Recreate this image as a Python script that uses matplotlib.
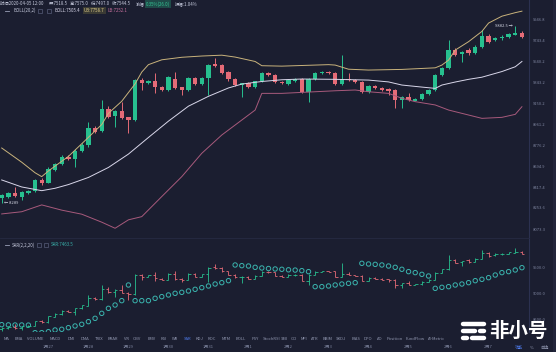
import numpy as np
import matplotlib.pyplot as plt
from matplotlib.lines import Line2D
from matplotlib.patches import Rectangle
from matplotlib.ticker import NullLocator

plt.rcParams['font.family'] = ['Noto Sans CJK SC', 'DejaVu Sans']

# 4h candles, 1月26 -> 2月7
opens = [8326, 8340, 8368, 8340, 8368, 8389, 8479, 8456, 8564, 8615, 8677, 8655, 8730, 8776, 8929, 8900,
         9102, 9036, 9078, 9024, 9000, 9365, 9334, 9359, 9298, 9273, 9377, 9298, 9273, 9384, 9328, 9384,
         9515, 9503, 9440, 9371, 9322, 9334, 9298, 9353, 9428, 9415, 9350, 9328, 9359, 9371, 9257, 9371,
         9428, 9440, 9434, 9328, 9377, 9365, 9350, 9257, 9310, 9288, 9280, 9273, 9181, 9206, 9175, 9187,
         9236, 9273, 9409, 9476, 9649, 9610, 9649, 9617, 9681, 9786, 9746, 9761, 9777, 9797, 9817]
highs = [8360, 8380, 8423, 8390, 8398, 8490, 8495, 8585, 8625, 8690, 8690, 8740, 8795, 8985, 8945, 9181,
         9125, 9090, 9166, 9030, 9375, 9380, 9370, 9428, 9310, 9400, 9444, 9305, 9395, 9395, 9392, 9515,
         9570, 9515, 9450, 9380, 9340, 9345, 9360, 9440, 9438, 9425, 9360, 9375, 9380, 9380, 9380, 9440,
         9450, 9450, 9445, 9601, 9428, 9372, 9360, 9318, 9320, 9300, 9290, 9280, 9215, 9242, 9200, 9245,
         9282, 9420, 9488, 9746, 9665, 9640, 9665, 9695, 9843, 9800, 9780, 9790, 9815, 9882.5, 9835]
lows = [8289, 8330, 8335, 8312, 8360, 8380, 8440, 8450, 8555, 8605, 8645, 8592, 8720, 8765, 8885, 8890,
        9020, 8941, 9010, 8882, 8990, 9273, 9325, 9242, 9262, 9262, 9278, 9227, 9265, 9318, 9320, 9227,
        9490, 9425, 9360, 9310, 9211, 9288, 9290, 9345, 9405, 9340, 9325, 9320, 9350, 9248, 9166, 9365,
        9420, 9420, 9320, 9320, 9358, 9342, 9250, 9242, 9280, 9265, 9227, 9106, 9106, 9172, 9168, 9180,
        9228, 9265, 9400, 9470, 9590, 9532, 9605, 9610, 9670, 9720, 9735, 9750, 9765, 9790, 9765]
closes = [8354, 8368, 8345, 8381, 8389, 8479, 8456, 8570, 8615, 8672, 8655, 8730, 8783, 8929, 8896, 9102,
          9030, 9078, 9018, 9000, 9365, 9334, 9359, 9304, 9273, 9390, 9287, 9273, 9384, 9328, 9384, 9503,
          9497, 9434, 9371, 9319, 9334, 9298, 9353, 9428, 9415, 9350, 9334, 9365, 9371, 9257, 9371, 9428,
          9440, 9428, 9328, 9377, 9365, 9350, 9257, 9310, 9288, 9273, 9267, 9181, 9206, 9181, 9194, 9236,
          9273, 9412, 9478, 9649, 9601, 9630, 9617, 9681, 9786, 9731, 9769, 9777, 9803, 9817, 9777]

sar = [8410, 8406, 8404, 8404, 8402, 8256, 8256, 8275, 8308, 8321, 8352, 8385, 8417, 8468, 8532, 8628,
       8724, 8788, 8872, 9173, 8872, 8872, 8872, 8917, 8949, 8981, 9013, 9032, 9058, 9090, 9122, 9154,
       9192, 9218, 9256, 9558, 9545, 9538, 9513, 9500, 9490, 9481, 9475, 9465, 9460, 9449, 9430, 9141,
       9141, 9154, 9173, 9192, 9205, 9218, 9590, 9577, 9570, 9558, 9538, 9513, 9475, 9430, 9411, 9378,
       9346, 9109, 9128, 9141, 9173, 9192, 9218, 9256, 9282, 9314, 9365, 9411, 9430, 9462, 9506]

# BOLL(20,2) at some candles
ub_idx = [0, 3, 5, 6, 7, 10, 12, 15, 16, 18, 20, 21, 22, 24, 27, 30, 33, 35, 38, 39, 42, 49, 50, 52,
          55, 60, 65, 66, 67, 68, 70, 72, 73, 75, 77, 78]
ub_val = [8753, 8630, 8540, 8507, 8555, 8680, 8790, 8960, 9060, 9170, 9330, 9440, 9510, 9556, 9580,
          9592, 9600, 9582, 9540, 9500, 9496, 9510, 9506, 9467, 9459, 9465, 9480, 9506, 9553, 9649,
          9730, 9830, 9912, 9980, 10015, 10030]
mb_idx = [0, 3, 6, 8, 10, 13, 16, 19, 22, 25, 28, 31, 34, 36, 39, 42, 45, 50, 55, 58, 60, 63, 65, 66,
          68, 70, 72, 75, 77, 78]
mb_val = [8479, 8420, 8389, 8409, 8440, 8500, 8585, 8700, 8845, 8990, 9125, 9215, 9292, 9328, 9352,
          9368, 9375, 9372, 9365, 9348, 9319, 9300, 9288, 9319, 9347, 9372, 9392, 9445, 9490, 9540]
lb_idx = [0, 3, 6, 9, 12, 15, 17, 19, 21, 24, 27, 30, 33, 36, 38, 39, 42, 45, 50, 53, 55, 58, 60, 62,
          65, 67, 70, 72, 75, 77, 78]
lb_val = [8197, 8215, 8271, 8228, 8195, 8130, 8081, 8149, 8175, 8340, 8507, 8707, 8867, 9000, 9090,
          9242, 9242, 9251, 9266, 9273, 9257, 9242, 9197, 9166, 9136, 9090, 9045, 9015, 9024, 9051, 9120]

price_ticks = [9946.8, 9743.4, 9540.2, 9343.2, 9150.2, 8961.2, 8776.2, 8594.9, 8417.4, 8253.6, 8073.3]
sar_ticks = [9500.0, 9000.0, 8500.0]
date_idx = [7, 13, 19, 25, 31, 37, 43, 49, 55, 61, 67, 73]
date_labels = ['1月27', '1月28', '1月29', '1月30', '1月31', '2月1',
               '2月2', '2月3', '2月4', '2月5', '2月6', '2月7']
tabs = ['MA', 'EMA', 'VOLUME', 'MACD', 'DMI', 'DMA', 'TRIX', 'BRAR', 'VR', 'OBV', 'EMV', 'RSI', 'WR',
        'SAR', 'KDJ', 'ROC', 'MTM', 'BOLL', 'PSY', 'StochRSI', 'SMI', 'CCI', 'MFI', 'ATR', 'BBIM',
        'SKDJ', 'BIAS', 'DPO', 'AO', 'Position', 'FundFlow', 'AI-Metric']
tab_x = [6, 19, 35, 55, 71, 85, 99, 113, 127, 137, 152, 164, 175, 188, 199, 212, 226, 241, 255, 272,
         284, 294, 304, 315, 328, 341, 356, 368, 380, 395, 415, 437]

BG = '#1b1e30'
GREEN = '#27c08f'
RED = '#e56b77'
GREY = '#7d849e'
W, H = 556, 352


def fx(x):
    return x / W


def fy(y):
    return 1 - y / H


fig = plt.figure(figsize=(W / 100, H / 100), dpi=100)
fig.patch.set_facecolor(BG)
# thin strip at the far right edge
fig.add_artist(Rectangle((fx(553), 0), fx(3), 1, fc='#22253a', ec='none'))

ax = fig.add_axes([0, fy(238), fx(529), 238 / H])
sx = fig.add_axes([0, fy(332), fx(529), 94 / H], sharex=ax)
for a in (ax, sx):
    a.set_facecolor(BG)
    for s in a.spines.values():
        s.set_visible(False)
    a.spines['right'].set_visible(True)
    a.spines['right'].set_color('#2c3150')
    a.spines['right'].set_linewidth(0.8)
    a.yaxis.tick_right()
    a.tick_params(axis='y', length=0, pad=3, labelsize=3.0, labelcolor=GREY)
sx.spines['top'].set_visible(True)
sx.spines['top'].set_color('#262a42')
sx.spines['top'].set_linewidth(0.6)

idx = np.arange(len(opens))
o, hi, lo, c = map(np.array, (opens, highs, lows, closes))
up = c >= o
col = np.where(up, GREEN, RED)

# main panel, candles on log scale
ax.set_yscale('log')
ax.vlines(idx, lo, hi, colors=col, lw=0.7)
ax.bar(idx, np.maximum(np.abs(c - o), 7), bottom=np.minimum(o, c), width=0.66, color=col, linewidth=0)
ax.plot(ub_idx, ub_val, color='#c9b37c', lw=0.7)
ax.plot(mb_idx, mb_val, color='#d9d7ea', lw=0.7)
ax.plot(lb_idx, lb_val, color='#a85a7c', lw=0.7)
ax.set_ylim(8003, 10142)
ax.set_yticks(price_ticks, labels=[f'{t:.1f}' for t in price_ticks])
ax.yaxis.set_minor_locator(NullLocator())
ax.tick_params(axis='x', length=0, labelbottom=False)
imax = int(np.argmax(hi))
imin = int(np.argmin(lo))
ax.text(imax - 0.4, hi[imax], f'{hi[imax]:.1f} →', ha='right', va='center', fontsize=3.0, color='#d0d3e0')
ax.text(imin + 0.3, lo[imin], f'← {lo[imin]:.0f}', ha='left', va='center', fontsize=3.0, color='#d0d3e0')

# SAR panel
sx.vlines(idx, lo, hi, colors=col, lw=0.6)
sx.hlines(o, idx - 0.35, idx, colors=col, lw=0.6)
sx.hlines(c, idx, idx + 0.35, colors=col, lw=0.6)
sx.scatter(idx, sar, s=10, facecolors='none', edgecolors='#3ab3ad', linewidths=0.7)
sx.set_ylim(8269, 10077)
sx.set_yticks(sar_ticks, labels=[f'{t:.1f}' for t in sar_ticks])
sx.set_xlim(-0.255, 79.06)
sx.set_xticks(date_idx, labels=date_labels)
sx.tick_params(axis='x', length=0, pad=9.3, labelsize=3.0, labelcolor=GREY)

# header rows
hdr = [('时间2020-04-05 12:00', 0.5), ('开:7518.5', 49), ('高:7575.0', 70),
       ('低:7497.0', 91), ('收:7544.5', 112), ('涨幅', 136), ('振幅:1.04%', 175)]
for t, x in hdr:
    fig.text(fx(x), fy(3.8), t, fontsize=3.15, color='#c5c9dc', va='center', ha='left')
fig.text(fx(146), fy(3.8), '0.35%(26.0)', fontsize=3.15, color='#35c896', va='center', ha='left',
         bbox=dict(boxstyle='square,pad=0.25', fc='#1f4a48', ec='none'))

fig.add_artist(Line2D([fx(5), fx(9)], [fy(10.5), fy(10.5)], color='#9aa0b8', lw=0.6))
fig.text(fx(13), fy(10.5), 'BOLL(20,2)', fontsize=3.15, color='#c5c9dc', va='center')
for bx in (38, 47):
    fig.add_artist(Rectangle((fx(bx), fy(12.5)), fx(4), 4 / H, fill=False, ec='#565c78', lw=0.5))
fig.text(fx(54), fy(10.5), 'BOLL:7505.4', fontsize=3.15, color='#d9d7ea', va='center')
fig.text(fx(84), fy(10.5), 'UB:7758.7', fontsize=3.15, color='#e3d08a', va='center',
         bbox=dict(boxstyle='square,pad=0.2', fc='#3a3a34', ec='none'))
fig.text(fx(107), fy(10.5), 'LB:7252.1', fontsize=3.15, color='#c46f9c', va='center')

fig.add_artist(Line2D([fx(5), fx(9)], [fy(245), fy(245)], color='#9aa0b8', lw=0.6))
fig.text(fx(12), fy(245), 'SAR(2,2,20)', fontsize=3.15, color='#c5c9dc', va='center')
for bx in (37, 44):
    fig.add_artist(Rectangle((fx(bx), fy(247)), fx(4), 4 / H, fill=False, ec='#565c78', lw=0.5))
fig.text(fx(51), fy(245), 'SAR:7463.5', fontsize=3.15, color='#3ab3ad', va='center')

# indicator tab row
for t, x in zip(tabs, tab_x):
    fig.text(fx(x), fy(338.5), t, fontsize=3.0, ha='center', va='center',
             color='#4f7df0' if t == 'SAR' else '#8f95ae')
fig.text(fx(519), fy(348), '功能', fontsize=3.0, ha='center', va='center', color='#4f7df0')
fig.text(fx(532), fy(348), '%', fontsize=3.0, ha='center', va='center', color='#8f95ae')
fig.text(fx(544), fy(348), '自选', fontsize=3.0, ha='center', va='center', color='#8f95ae')

# watermark
for (x0, x1), yy in [((463, 484), 324), ((463, 475), 331), ((480, 484), 331), ((463, 467), 338), ((472, 484), 338)]:
    fig.add_artist(Line2D([fx(x0), fx(x1)], [fy(yy), fy(yy)], color='white', lw=3.2, solid_capstyle='round'))
fig.text(fx(518), fy(331), '非小号', fontsize=14, fontweight='bold', color='white', ha='center', va='center')

fig.savefig('out.png', dpi=100, facecolor=BG)
